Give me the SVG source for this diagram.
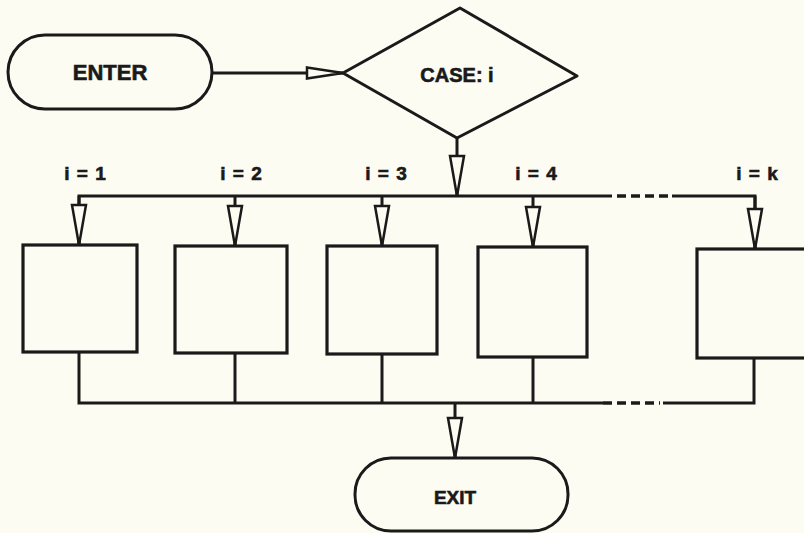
<svg xmlns="http://www.w3.org/2000/svg" width="804" height="533" viewBox="0 0 804 533">
  <style>
    .shape { fill: none; stroke: #1a1a1a; stroke-width: 3; stroke-linejoin: round; }
    .box { fill: none; stroke: #1a1a1a; stroke-width: 3.2; }
    .wire { fill: none; stroke: #1a1a1a; stroke-width: 3; }
    .dash { fill: none; stroke: #1a1a1a; stroke-width: 3.5; stroke-dasharray: 9 5; }
    .lbl { font-family: "Liberation Sans", Arial, sans-serif; font-weight: bold; fill: #1a1a1a; stroke: #1a1a1a; stroke-width: 0.6; text-anchor: middle; }
  </style>
  <defs>
    <marker id="ah" markerUnits="userSpaceOnUse" viewBox="-2 -2 44 18" refX="40" refY="7" markerWidth="44" markerHeight="18" orient="auto">
      <path d="M0,0 L40,7 L0,14 Z" fill="#fcfcf2" stroke="#1a1a1a" stroke-width="2.5"/>
    </marker>
    <marker id="ahs" markerUnits="userSpaceOnUse" viewBox="-2 -2 40 15" refX="36" refY="5.5" markerWidth="40" markerHeight="15" orient="auto">
      <path d="M0,0 L36,5.5 L0,11 Z" fill="#fcfcf2" stroke="#1a1a1a" stroke-width="2.5"/>
    </marker>
  </defs>
  <rect x="0" y="0" width="804" height="533" fill="#fcfcf2"/>

  <g id="connectors">
    <path class="wire" d="M212,73 H343" marker-end="url(#ahs)"/>
    <path class="wire" d="M457,138 V196" marker-end="url(#ah)"/>
    <path class="wire" d="M79,245 V196 H612"/>
    <path class="dash" d="M617,196 H668"/>
    <path class="wire" d="M672,196 H755 V249"/>
    <path class="wire" d="M79,196 V245" marker-end="url(#ah)"/>
    <path class="wire" d="M235,196 V246" marker-end="url(#ah)"/>
    <path class="wire" d="M382,196 V246" marker-end="url(#ah)"/>
    <path class="wire" d="M533,196 V247" marker-end="url(#ah)"/>
    <path class="wire" d="M755,196 V249" marker-end="url(#ah)"/>
    <path class="wire" d="M79,352 V403 H603"/>
    <path class="dash" d="M603,403 H660"/>
    <path class="wire" d="M663,403 H754 V358"/>
    <path class="wire" d="M235,353 V403"/>
    <path class="wire" d="M382,354 V403"/>
    <path class="wire" d="M533,357 V403"/>
    <path class="wire" d="M455,403 V458" marker-end="url(#ah)"/>
  </g>

  <g id="enter">
    <rect class="shape" x="8" y="35" width="204" height="74" rx="37" ry="37"/>
    <text class="lbl" x="110" y="80" font-size="22">ENTER</text>
  </g>

  <g id="case">
    <polygon class="shape" points="343,73 460,8 577,76 457,138"/>
    <text class="lbl" x="457" y="82" font-size="20">CASE: i</text>
  </g>

  <g id="labels">
    <text class="lbl" x="85" y="180" font-size="19" word-spacing="2">i = 1</text>
    <text class="lbl" x="241" y="180" font-size="19" word-spacing="2">i = 2</text>
    <text class="lbl" x="386" y="180" font-size="19" word-spacing="2">i = 3</text>
    <text class="lbl" x="536" y="180" font-size="19" word-spacing="2">i = 4</text>
    <text class="lbl" x="757" y="180" font-size="19" word-spacing="2">i = k</text>
  </g>

  <g id="box1"><rect class="box" x="23" y="245" width="114" height="107"/></g>
  <g id="box2"><rect class="box" x="175" y="246" width="112" height="107"/></g>
  <g id="box3"><rect class="box" x="327" y="246" width="110" height="108"/></g>
  <g id="box4"><rect class="box" x="478" y="247" width="109" height="110"/></g>
  <g id="boxk"><rect class="box" x="697" y="249" width="120" height="109"/></g>

  <g id="exit">
    <rect class="shape" x="355" y="458" width="213" height="73" rx="36" ry="36"/>
    <text class="lbl" x="455" y="504" font-size="19">EXIT</text>
  </g>
</svg>
